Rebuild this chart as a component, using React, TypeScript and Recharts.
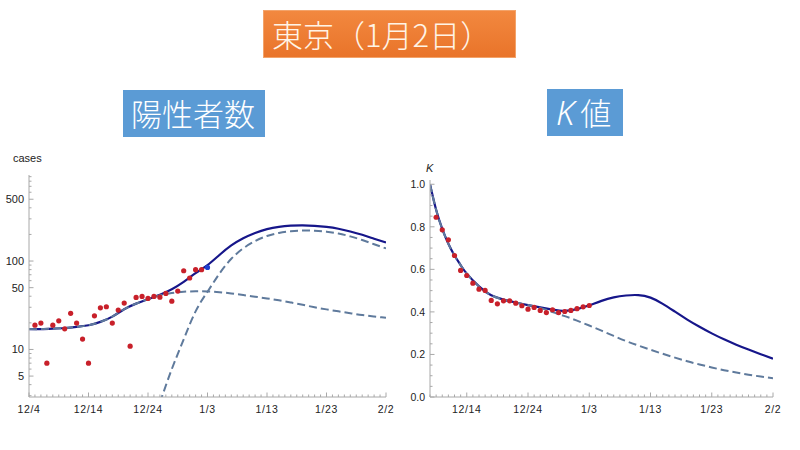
import React from 'react';
import { ComposedChart, Line, Scatter, XAxis, YAxis } from 'recharts';

// ---------- Left chart: 陽性者数 (cases, log scale) ----------
const casesDays = [1, 2, 3, 4, 5, 6, 7, 8, 9, 10, 11, 12, 13, 14, 15, 16, 17, 18, 19, 20, 21, 22, 23, 24, 25, 26, 27, 28, 29];
const casesObserved = [18.8, 19.9, 7, 18.8, 21.1, 17.1, 25.6, 19.9, 13.1, 7, 24, 29.6, 30.4, 19.9, 27.9, 33.5, 10.9, 38.8, 39.8, 37.8, 39.8, 39, 43, 35.2, 45.7, 77.7, 64.3, 79.8, 79.8];
const latestDays = [30];
const latestCases = [84.7];

const curveDaysL = [0, 2, 4, 6, 8, 10, 12, 14, 16, 18, 20, 22, 24, 26, 28, 30, 32, 34, 36, 38, 40, 42, 44, 46, 48, 50, 52, 54, 56, 58, 60];
const casesTotal = [17, 17, 17.2, 17.5, 18, 18.8, 20.5, 23.5, 28.5, 33, 37, 41.5, 48, 58, 73, 90, 117, 150, 181, 208, 230, 244, 251, 253, 250, 243, 232, 216, 198, 179, 162];
const casesWave1 = [17, 17, 17.2, 17.5, 18, 18.8, 20.5, 23.5, 28.5, 33, 37, 41, 43.5, 45, 45.5, 45.3, 44.5, 43, 41.3, 39.5, 37.8, 36, 34, 32, 30, 28.4, 27, 25.7, 24.5, 23.6, 22.8];
const wave2Days = [22, 24, 26, 28, 30, 32, 34, 36, 38, 40, 42, 44, 46, 48, 50, 52, 54, 56, 58, 60];
const casesWave2 = [2.5, 6, 13, 27, 45, 72, 106, 139, 168, 192, 208, 217, 221, 220, 215, 205, 190, 173, 155, 139];

const xMajorDaysL = [0, 10, 20, 30, 40, 50, 60];
const xMajorLabelsL = ['12/4', '12/14', '12/24', '1/3', '1/13', '1/23', '2/2'];
const yMajorL = [5, 10, 50, 100, 500];
const yMajorLabelsL = ['5', '10', '50', '100', '500'];
const yMinorL = [3, 4, 6, 7, 8, 9, 20, 30, 40, 60, 70, 80, 90, 200, 300, 400, 600, 700, 800, 900];

// ---------- Right chart: K値 ----------
const kObsDays = [5, 6, 7, 8, 9, 10, 11, 12, 13, 14, 15, 16, 17, 18, 19, 20, 21, 22, 23, 24, 25, 26, 27, 28, 29, 30];
const kObserved = [0.845, 0.786, 0.739, 0.665, 0.595, 0.571, 0.535, 0.507, 0.501, 0.454, 0.438, 0.452, 0.452, 0.441, 0.429, 0.413, 0.421, 0.407, 0.397, 0.41, 0.397, 0.402, 0.407, 0.415, 0.424, 0.43];
const kCurveDays = [4, 5, 6, 7, 8, 9, 10, 12, 14, 16, 18, 20, 22, 24, 26, 28, 30, 32, 34, 36, 38, 40, 42, 44, 46, 48, 50, 52, 54, 56, 58, 60];
const kTotal = [1.0, 0.88, 0.79, 0.72, 0.665, 0.62, 0.58, 0.52, 0.478, 0.458, 0.444, 0.432, 0.421, 0.411, 0.405, 0.413, 0.431, 0.452, 0.468, 0.477, 0.479, 0.467, 0.438, 0.401, 0.364, 0.33, 0.299, 0.271, 0.246, 0.223, 0.201, 0.18];
const kWave1 = [1.0, 0.88, 0.79, 0.72, 0.665, 0.62, 0.58, 0.52, 0.478, 0.458, 0.444, 0.432, 0.419, 0.399, 0.38, 0.359, 0.336, 0.312, 0.287, 0.263, 0.242, 0.222, 0.203, 0.185, 0.168, 0.153, 0.139, 0.126, 0.115, 0.105, 0.096, 0.088];

const xMajorDaysR = [10, 20, 30, 40, 50, 60];
const xMajorLabelsR = ['12/14', '12/24', '1/3', '1/13', '1/23', '2/2'];
const yMajorR = [0, 0.2, 0.4, 0.6, 0.8, 1.0];
const yMajorLabelsR = ['0.0', '0.2', '0.4', '0.6', '0.8', '1.0'];
const yMinorR = [0.05, 0.1, 0.15, 0.25, 0.3, 0.35, 0.45, 0.5, 0.55, 0.65, 0.7, 0.75, 0.85, 0.9, 0.95];

// ---------- styles ----------
const AXIS = '#a8a8a8';
const LABEL = '#222';
const NAVY = '#16168a';
const DASH = '#5f7a9c';
const RED = '#c8202a';
const BLUE = '#1f3fd0';
const FONT = '"Liberation Sans", Arial, sans-serif';
const CJK = '"Noto Sans CJK JP", "Noto Sans CJK SC", sans-serif';

const rows = (xs: number[], ys: number[]) => xs.map((d, i) => ({ day: d, v: ys[i] }));

const range = (a: number, b: number) => {
  const out: number[] = [];
  for (let i = a; i <= b; i++) out.push(i);
  return out;
};

const makeXTick = (majors: number[], labels: string[]) => (props: any) => {
  const { x, y, payload } = props;
  const idx = majors.indexOf(payload.value);
  const major = idx >= 0;
  return (
    <g>
      <line x1={x} x2={x} y1={y} y2={y - (major ? 4.5 : 2.5)} stroke={AXIS} strokeWidth={1} />
      {major && (
        <text x={x} y={y + 15.5} textAnchor="middle" fontSize={10.5} fill={LABEL} fontFamily={FONT} letterSpacing={0.6}>
          {labels[idx]}
        </text>
      )}
    </g>
  );
};

const makeYTick = (majors: number[], labels: string[], fs: number) => (props: any) => {
  const { x, y, payload } = props;
  const idx = majors.indexOf(payload.value);
  const major = idx >= 0;
  return (
    <g>
      <line x1={x} x2={x + (major ? 4.5 : 2.5)} y1={y} y2={y} stroke={AXIS} strokeWidth={1} />
      {major && (
        <text x={x - 5} y={y + 4} textAnchor="end" fontSize={fs} fill={LABEL} fontFamily={FONT}>
          {labels[idx]}
        </text>
      )}
    </g>
  );
};

const dotShape = (color: string) => (props: any) => (
  <circle cx={props.cx} cy={props.cy} r={2.6} fill={color} />
);

const LeftChart = () => (
  <ComposedChart width={400} height={280} margin={{ top: 25, right: 14, bottom: 0, left: 0 }}>
    <XAxis
      dataKey="day"
      type="number"
      domain={[0, 60]}
      ticks={range(0, 60)}
      interval={0}
      tick={makeXTick(xMajorDaysL, xMajorLabelsL)}
      tickLine={false}
      tickSize={0}
      tickMargin={0}
      axisLine={{ stroke: AXIS }}
      height={33}
      allowDataOverflow
    />
    <YAxis
      type="number"
      scale="log"
      domain={[2.9, 940]}
      ticks={[...yMinorL, ...yMajorL].sort((a, b) => a - b)}
      interval={0}
      tick={makeYTick(yMajorL, yMajorLabelsL, 11)}
      tickLine={false}
      tickSize={0}
      tickMargin={0}
      axisLine={{ stroke: AXIS }}
      width={29}
      allowDataOverflow
    />
    <Line data={rows(curveDaysL, casesTotal)} dataKey="v" type="natural" stroke={NAVY} strokeWidth={2.2} dot={false} activeDot={false} isAnimationActive={false} />
    <Line data={rows(curveDaysL, casesWave1)} dataKey="v" type="natural" stroke={DASH} strokeWidth={2} strokeDasharray="8 4" dot={false} activeDot={false} isAnimationActive={false} />
    <Line data={rows(wave2Days, casesWave2)} dataKey="v" type="natural" stroke={DASH} strokeWidth={2} strokeDasharray="8 4" dot={false} activeDot={false} isAnimationActive={false} />
    <Scatter data={rows(casesDays, casesObserved)} dataKey="v" shape={dotShape(RED)} isAnimationActive={false} />
    <Scatter data={rows(latestDays, latestCases)} dataKey="v" shape={dotShape(BLUE)} isAnimationActive={false} />
  </ComposedChart>
);

const RightChart = () => (
  <ComposedChart width={400} height={270} margin={{ top: 20, right: 27, bottom: 0, left: 0 }}>
    <XAxis
      dataKey="day"
      type="number"
      domain={[4, 60]}
      ticks={range(4, 60)}
      interval={0}
      tick={makeXTick(xMajorDaysR, xMajorLabelsR)}
      tickLine={false}
      tickSize={0}
      tickMargin={0}
      axisLine={{ stroke: AXIS }}
      height={33}
      allowDataOverflow
    />
    <YAxis
      type="number"
      domain={[0, 1.02]}
      ticks={[...yMinorR, ...yMajorR].sort((a, b) => a - b)}
      interval={0}
      tick={makeYTick(yMajorR, yMajorLabelsR, 10.5)}
      tickLine={false}
      tickSize={0}
      tickMargin={0}
      axisLine={{ stroke: AXIS }}
      width={30}
      allowDataOverflow
    />
    <Line data={rows(kCurveDays, kTotal)} dataKey="v" type="natural" stroke={NAVY} strokeWidth={2.2} dot={false} activeDot={false} isAnimationActive={false} />
    <Line data={rows(kCurveDays, kWave1)} dataKey="v" type="natural" stroke={DASH} strokeWidth={2} strokeDasharray="8 4" dot={false} activeDot={false} isAnimationActive={false} />
    <Scatter data={rows(kObsDays, kObserved)} dataKey="v" shape={dotShape(RED)} isAnimationActive={false} />
  </ComposedChart>
);

export default function App() {
  return (
    <div style={{ position: 'absolute', left: 0, top: 0, width: 800, height: 450, background: '#fff', overflow: 'hidden', fontFamily: FONT }}>
      {/* main title */}
      <div
        style={{
          position: 'absolute', left: 263, top: 10, width: 253, height: 48, boxSizing: 'border-box',
          background: 'linear-gradient(#f2883f, #e9742a)', border: '1px solid #f3a36a',
          color: '#fff4e6', fontFamily: CJK, fontWeight: 300, fontSize: 31, lineHeight: '46px',
          paddingLeft: 8, whiteSpace: 'nowrap',
        }}
      >
        東京（1月2日）
      </div>
      {/* panel titles */}
      <div
        style={{
          position: 'absolute', left: 123, top: 90, width: 142, height: 47, background: '#5b9bd5',
          color: '#fff', fontFamily: CJK, fontWeight: 300, fontSize: 31, lineHeight: '46px',
          paddingLeft: 8, boxSizing: 'border-box', whiteSpace: 'nowrap',
        }}
      >
        陽性者数
      </div>
      <div
        style={{
          position: 'absolute', left: 547, top: 89, width: 76, height: 47, background: '#5b9bd5',
          color: '#fff', fontFamily: CJK, fontWeight: 300, fontSize: 31, lineHeight: '46px',
          paddingLeft: 9, boxSizing: 'border-box', whiteSpace: 'nowrap',
        }}
      >
        <span style={{ fontFamily: '"Noto Sans", sans-serif', fontStyle: 'italic', fontWeight: 300, fontSize: 33 }}>K</span>
        <span style={{ marginLeft: 6 }}>値</span>
      </div>

      {/* axis captions */}
      <div style={{ position: 'absolute', left: 13, top: 152, fontSize: 11, color: LABEL, fontFamily: FONT }}>cases</div>
      <div style={{ position: 'absolute', left: 426, top: 162, fontSize: 11, color: LABEL, fontFamily: FONT, fontStyle: 'italic' }}>K</div>

      <div style={{ position: 'absolute', left: 0, top: 150 }}>
        <LeftChart />
      </div>
      <div style={{ position: 'absolute', left: 400, top: 160 }}>
        <RightChart />
      </div>
    </div>
  );
}
